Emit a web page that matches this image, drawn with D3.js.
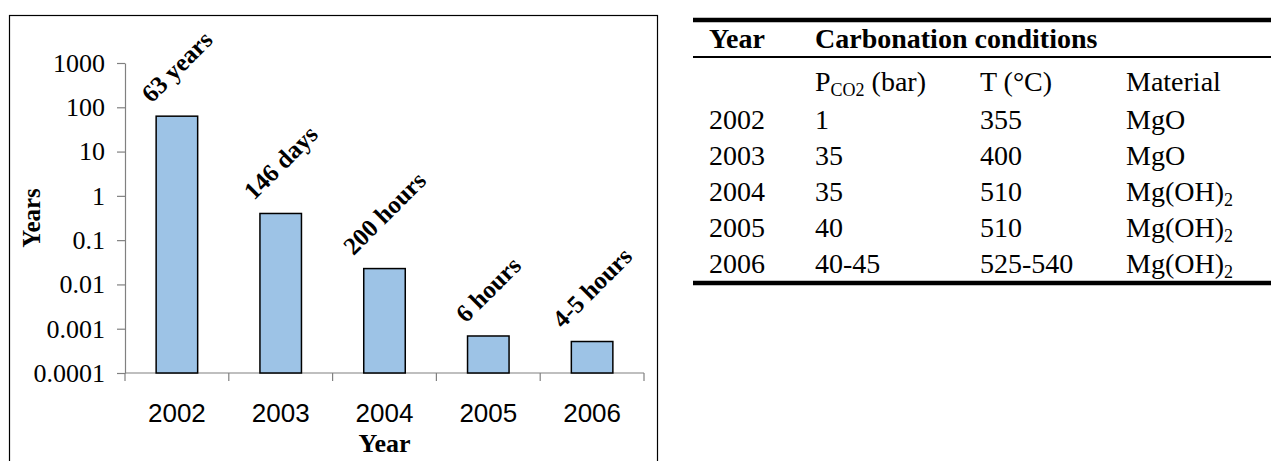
<!DOCTYPE html>
<html>
<head>
<meta charset="utf-8">
<script src="https://cdn.jsdelivr.net/npm/d3@7"></script>
<style>
  body { margin: 0; background: #fff; }
  svg { display: block; }
</style>
</head>
<body>
<div id="chart"></div>
<script>
const YEARS = ["2002", "2003", "2004", "2005", "2006"];
// time to carbonate, in years (63 years, 146 days, 200 h, 6 h, ~4.5 h)
const DURATION = [63, 0.4, 0.0228, 0.000685, 0.000514];
const BAR_LABELS = ["63 years", "146 days", "200 hours", "6 hours", "4-5 hours"];
const Y_TICKS = [0.0001, 0.001, 0.01, 0.1, 1, 10, 100, 1000];
const Y_TICK_LABELS = ["0.0001", "0.001", "0.01", "0.1", "1", "10", "100", "1000"];

const TABLE_YEARS = ["2002", "2003", "2004", "2005", "2006"];
const PRESSURE = ["1", "35", "35", "40", "40-45"];
const TEMPERATURE = ["355", "400", "510", "510", "525-540"];
const MATERIAL = [["MgO", ""], ["MgO", ""], ["Mg(OH)", "2"], ["Mg(OH)", "2"], ["Mg(OH)", "2"]];

const W = 1271, H = 461;
const PLOT = { left: 125, right: 644, top: 63, bottom: 373 };
const SERIF = "'Liberation Serif', 'Times New Roman', serif";
const SANS = "'Liberation Sans', Arial, sans-serif";

const svg = d3.select("#chart").append("svg")
    .attr("width", W)
    .attr("height", H);

// chart frame
svg.append("rect")
    .attr("x", 9.5).attr("y", 15.5)
    .attr("width", 648).attr("height", 450)
    .attr("fill", "none")
    .attr("stroke", "#000")
    .attr("stroke-width", 1.2);

const x = d3.scaleBand()
    .domain(YEARS)
    .range([PLOT.left, PLOT.right])
    .paddingInner(0.6)
    .paddingOuter(0.3);

const y = d3.scaleLog()
    .domain([0.0001, 1000])
    .range([PLOT.bottom, PLOT.top]);

// y axis
const yAxis = svg.append("g")
    .attr("transform", `translate(${PLOT.left},0)`)
    .call(d3.axisLeft(y)
        .tickValues(Y_TICKS)
        .tickFormat((d, i) => Y_TICK_LABELS[i])
        .tickSizeInner(8)
        .tickSizeOuter(0)
        .tickPadding(12));
yAxis.select(".domain").attr("stroke", "#808080").attr("stroke-width", 1.2);
yAxis.selectAll(".tick line").attr("stroke", "#808080").attr("stroke-width", 1.2);
yAxis.selectAll(".tick text")
    .attr("font-family", SERIF)
    .attr("font-size", 26)
    .attr("fill", "#000");

// x axis: ticks sit between categories, like the original
const xAxisG = svg.append("g")
    .attr("transform", `translate(0,${PLOT.bottom})`);
xAxisG.append("line")
    .attr("x1", PLOT.left).attr("x2", PLOT.right)
    .attr("stroke", "#808080").attr("stroke-width", 1.2);
const step = (PLOT.right - PLOT.left) / YEARS.length;
xAxisG.selectAll(".sep")
    .data(d3.range(YEARS.length + 1))
    .join("line")
    .attr("class", "sep")
    .attr("x1", i => PLOT.left + i * step)
    .attr("x2", i => PLOT.left + i * step)
    .attr("y1", 0).attr("y2", 8)
    .attr("stroke", "#808080").attr("stroke-width", 1.2);
xAxisG.selectAll(".lbl")
    .data(YEARS)
    .join("text")
    .attr("class", "lbl")
    .attr("x", d => x(d) + x.bandwidth() / 2)
    .attr("y", 49)
    .attr("text-anchor", "middle")
    .attr("font-family", SANS)
    .attr("font-size", 26)
    .text(d => d);

// axis titles
svg.append("text")
    .attr("x", (PLOT.left + PLOT.right) / 2)
    .attr("y", 452)
    .attr("text-anchor", "middle")
    .attr("font-family", SERIF)
    .attr("font-weight", "bold")
    .attr("font-size", 26)
    .text("Year");

svg.append("text")
    .attr("transform", `translate(40, ${(PLOT.top + PLOT.bottom) / 2}) rotate(-90)`)
    .attr("text-anchor", "middle")
    .attr("font-family", SERIF)
    .attr("font-weight", "bold")
    .attr("font-size", 25)
    .text("Years");

// bars
svg.append("g")
    .selectAll("rect")
    .data(DURATION)
    .join("rect")
    .attr("x", (d, i) => x(YEARS[i]))
    .attr("y", d => y(d))
    .attr("width", x.bandwidth())
    .attr("height", d => PLOT.bottom - y(d))
    .attr("fill", "#9dc3e6")
    .attr("stroke", "#000")
    .attr("stroke-width", 1.5);

// rotated value labels, box centred above each bar
const labels = svg.append("g")
    .selectAll("text")
    .data(BAR_LABELS)
    .join("text")
    .attr("text-anchor", "middle")
    .attr("dominant-baseline", "central")
    .attr("font-family", SERIF)
    .attr("font-weight", "bold")
    .attr("font-size", 25)
    .text(d => d);
labels.each(function (d, i) {
    const len = this.getComputedTextLength();
    const half = (len + 18) / (2 * Math.SQRT2);
    const cx = x(YEARS[i]) + x.bandwidth() / 2;
    const cy = y(DURATION[i]) - 12 - half;
    d3.select(this).attr("transform", `translate(${cx},${cy}) rotate(-45)`);
});

// table
const COLS = [709, 815, 980, 1126];
const TABLE_LEFT = 693, TABLE_RIGHT = 1271;
const ROW_H = 36;
const table = svg.append("g");

table.append("line")
    .attr("x1", TABLE_LEFT).attr("x2", TABLE_RIGHT)
    .attr("y1", 20).attr("y2", 20)
    .attr("stroke", "#000").attr("stroke-width", 4.5);
table.append("line")
    .attr("x1", TABLE_LEFT).attr("x2", TABLE_RIGHT)
    .attr("y1", 57).attr("y2", 57)
    .attr("stroke", "#000").attr("stroke-width", 2.2);
table.append("line")
    .attr("x1", TABLE_LEFT).attr("x2", TABLE_RIGHT)
    .attr("y1", 283).attr("y2", 283)
    .attr("stroke", "#000").attr("stroke-width", 4.5);

const cell = (xp, yp, bold) => table.append("text")
    .attr("x", xp).attr("y", yp)
    .attr("font-family", SERIF)
    .attr("font-size", 28)
    .attr("font-weight", bold ? "bold" : "normal");

cell(COLS[0], 48, true).text("Year");
cell(COLS[1], 48, true).text("Carbonation conditions");

const subY = 91;
const pco2 = cell(COLS[1], subY, false);
pco2.append("tspan").text("P");
pco2.append("tspan").attr("font-size", 18).attr("dy", 5).text("CO2");
pco2.append("tspan").attr("dy", -5).text(" (bar)");
cell(COLS[2], subY, false).text("T (°C)");
cell(COLS[3], subY, false).text("Material");

TABLE_YEARS.forEach((yr, i) => {
    const by = 129 + ROW_H * i;
    cell(COLS[0], by, false).text(yr);
    cell(COLS[1], by, false).text(PRESSURE[i]);
    cell(COLS[2], by, false).text(TEMPERATURE[i]);
    const m = cell(COLS[3], by, false);
    m.append("tspan").text(MATERIAL[i][0]);
    if (MATERIAL[i][1]) {
        m.append("tspan").attr("font-size", 18).attr("dy", 5).text(MATERIAL[i][1]);
    }
});
</script>
</body>
</html>
